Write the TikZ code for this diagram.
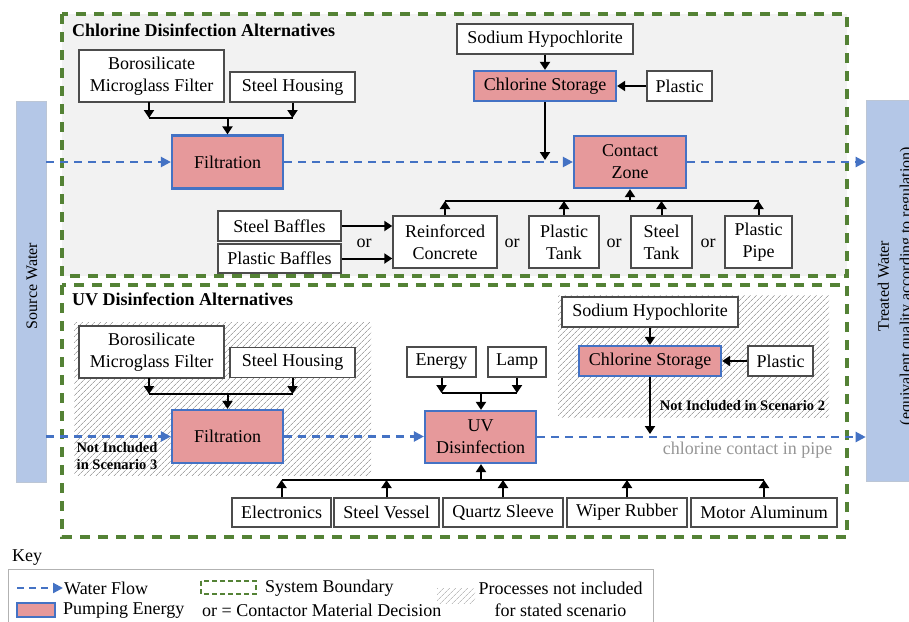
\documentclass[tikz,border=0pt]{standalone}
\usepackage{fontspec}
\setmainfont{Liberation Serif}
\usetikzlibrary{arrows.meta,patterns.meta}

\definecolor{flowblue}{RGB}{68,114,196}
\definecolor{pumppink}{RGB}{230,153,155}
\definecolor{bndgreen}{RGB}{84,130,53}
\definecolor{barblue}{RGB}{180,199,231}
\definecolor{panelgray}{RGB}{242,242,242}
\definecolor{notegray}{RGB}{150,150,150}

\newcommand\boxfont{\fontsize{18}{22}\selectfont}
\newcommand\barfont{\fontsize{16}{22}\selectfont}
\newcommand\notefont{\fontsize{14.5}{17}\selectfont\bfseries}

\tikzset{
  box/.style={draw=black!70, line width=1.4pt, fill=white, align=center,
    inner sep=0pt, font=\boxfont},
  pump/.style={box, draw=flowblue, line width=2.2pt, fill=pumppink},
  arr/.style={line width=2pt, -{Triangle[length=8pt,width=10pt]}},
  link/.style={line width=2pt},
  flow/.style={draw=flowblue, line width=2.2pt, dash pattern=on 8pt off 6pt,
    -{Triangle[length=10pt,width=10pt]}},
  boundary/.style={draw=bndgreen, line width=3.5pt, dash pattern=on 10pt off 8pt},
  hatch/.style={pattern={Lines[angle=45,distance=4pt,line width=0.8pt]},
    pattern color=black!35},
  bar/.style={fill=barblue, draw=barblue!80!black!60, line width=0.6pt,
    inner sep=0pt},
  title/.style={font=\boxfont\bfseries, anchor=west, inner sep=0pt},
  txt/.style={font=\boxfont, inner sep=0pt},
}

\begin{document}
\begin{tikzpicture}[x=1pt,y=-1pt]
\useasboundingbox (0,0) rectangle (909,621);

% ---------- panels ----------
\fill[panelgray] (62,14) rectangle (847,276);
\fill[white] (62,285) rectangle (847,537);
\path[hatch] (74,322) rectangle (371,475);
\path[hatch] (558,295) rectangle (829,417);
\draw[boundary] (62,14) rectangle (847,276);
\draw[boundary] (62,285) rectangle (847,537);

\node[title] (ctitle) at (72,30) {Chlorine Disinfection Alternatives};
\node[title] (utitle) at (72,299) {UV Disinfection Alternatives};

% ---------- source / treated water bars ----------
\node[bar, minimum width=30, minimum height=381] (srcbar) at (31,291.5) {};
\node[txt, font=\barfont, rotate=90] (srctext) at (32,286) {Source Water};
\node[bar, minimum width=64, minimum height=381] (trbar) at (898,290.5) {};
\node[txt, font=\barfont, rotate=90, align=center] (trtext) at (896,286)
  {Treated Water\\(equivalent quality according to regulation)};

% ---------- chlorine disinfection ----------
\node[box, minimum width=145, minimum height=52] (cBoro) at (151.5,76) {Borosilicate\\Microglass Filter};
\node[box, minimum width=125, minimum height=30] (cSteelH) at (292.5,87) {Steel Housing};
\node[pump, minimum width=111, minimum height=53] (cFilt) at (227.5,162) {Filtration};
\node[box, minimum width=176, minimum height=30] (cSodium) at (545,39) {Sodium Hypochlorite};
\node[pump, minimum width=142, minimum height=30] (cStore) at (545,86) {Chlorine Storage};
\node[box, minimum width=65, minimum height=30] (cPlastic) at (679.5,86) {Plastic};
\node[pump, minimum width=112, minimum height=52] (cContact) at (630,162) {Contact\\Zone};
\node[box, minimum width=104, minimum height=52] (cRC) at (445,242) {Reinforced\\Concrete};
\node[box, minimum width=70, minimum height=52] (cPT) at (564,242) {Plastic\\Tank};
\node[box, minimum width=61, minimum height=52] (cST) at (661.5,242) {Steel\\Tank};
\node[box, minimum width=67, minimum height=52] (cPP) at (758.5,242) {Plastic\\Pipe};
\node[box, minimum width=123, minimum height=30] (cSB) at (279.5,226) {Steel Baffles};
\node[box, minimum width=123, minimum height=29] (cPB) at (279.5,258.5) {Plastic Baffles};
\node[txt] (cor0) at (364,243) {or};
\node[txt] (cor1) at (512,243) {or};
\node[txt] (cor2) at (614,243) {or};
\node[txt] (cor3) at (708,243) {or};

\coordinate (cj1) at (227.5,118);
\coordinate (cb1) at (149,102);
\draw[arr] (cb1) -- (cb1 |- cj1);
\draw[arr] (cSteelH.south) -- (cSteelH.south |- cj1);
\draw[link] (cb1 |- cj1) -- (cSteelH.south |- cj1);
\draw[arr] (cj1) -- (cFilt.north);

\draw[flow] (srcbar.east |- cFilt) -- (cFilt.west);
\draw[flow] (cFilt.east) -- (cContact.west);
\draw[flow] (cContact.east) -- (cContact.east -| trbar.west);

\coordinate (cdrop) at (545,160);
\draw[arr] (cSodium) -- (cStore);
\draw[arr] (cPlastic) -- (cStore);
\draw[arr] (cStore.south) -- (cdrop);

\coordinate (cj2) at (630,201);
\draw[link] (cRC.north |- cj2) -- (cPP.north |- cj2);
\foreach \n in {cRC,cPT,cST,cPP}
  \draw[arr] (\n.north) -- (\n.north |- cj2);
\draw[arr] (cj2) -- (cContact.south);
\draw[arr] (cSB.east) -- (cSB.east -| cRC.west);
\draw[arr] (cPB.east) -- (cPB.east -| cRC.west);

% ---------- UV disinfection ----------
\node[box, minimum width=145, minimum height=52] (uBoro) at (151.5,352) {Borosilicate\\Microglass Filter};
\node[box, minimum width=125, minimum height=30] (uSteelH) at (292.5,362.5) {Steel Housing};
\node[pump, minimum width=111, minimum height=53] (uFilt) at (227.5,436.5) {Filtration};
\node[txt, font=\notefont, align=center] (unote3) at (117,456.5) {Not Included\\in Scenario 3};

\node[box, minimum width=69, minimum height=30] (uEnergy) at (441.5,362) {Energy};
\node[box, minimum width=58, minimum height=30] (uLamp) at (517,362) {Lamp};
\node[pump, minimum width=111, minimum height=52] (uUV) at (480.5,437) {UV\\Disinfection};

\node[box, minimum width=176, minimum height=30] (uSodium) at (650,312) {Sodium Hypochlorite};
\node[pump, minimum width=142, minimum height=30] (uStore) at (650,361) {Chlorine Storage};
\node[box, minimum width=65, minimum height=30] (uPlastic) at (780.5,361) {Plastic};
\node[txt, font=\notefont] (unote2) at (742.5,406) {Not Included in Scenario 2};
\node[txt, text=notegray] (upipe) at (747.5,450) {chlorine contact in pipe};

\node[box, minimum width=99, minimum height=29] (uElec) at (281.5,512.5) {Electronics};
\node[box, minimum width=105, minimum height=29] (uSV) at (386.5,512.5) {Steel Vessel};
\node[box, minimum width=120, minimum height=29] (uQS) at (503,512.5) {Quartz Sleeve};
\node[box, minimum width=120, minimum height=29] (uWR) at (627,512.5) {Wiper Rubber};
\node[box, minimum width=146, minimum height=29] (uMA) at (764,512.5) {Motor Aluminum};

\coordinate (uj1) at (227.5,394);
\coordinate (ub1) at (149,378);
\draw[arr] (ub1) -- (ub1 |- uj1);
\draw[arr] (uSteelH.south) -- (uSteelH.south |- uj1);
\draw[link] (ub1 |- uj1) -- (uSteelH.south |- uj1);
\draw[arr] (uj1) -- (uFilt.north);

\coordinate (uj2) at (481,393);
\draw[arr] (uEnergy.south) -- (uEnergy.south |- uj2);
\draw[arr] (uLamp.south) -- (uLamp.south |- uj2);
\draw[link] (uEnergy.south |- uj2) -- (uLamp.south |- uj2);
\draw[arr] (uj2) -- (uj2 |- uUV.north);

\draw[flow] (srcbar.east |- uFilt) -- (uFilt.west);
\draw[flow] (uFilt.east) -- (uFilt.east -| uUV.west);
\draw[flow] (uUV.east) -- (uUV.east -| trbar.west);

\coordinate (udrop) at (650,434);
\draw[arr] (uSodium) -- (uStore);
\draw[arr] (uPlastic) -- (uStore);
\draw[arr] (uStore.south) -- (udrop);

\coordinate (uj3) at (481,480);
\draw[link] (uElec.north |- uj3) -- (uMA.north |- uj3);
\foreach \n in {uElec,uSV,uQS,uWR,uMA}
  \draw[arr] (\n.north) -- (\n.north |- uj3);
\draw[arr] (uj3) -- (uj3 |- uUV.south);

% ---------- key ----------
\node[txt, anchor=west] (keytitle) at (12,558) {Key};
\draw[black!30, line width=1pt] (8,640) -- (8,569) -- (653,569) -- (653,640);
\coordinate (kf0) at (17,588);
\coordinate (kf1) at (63,588);
\draw[flow, dash pattern=on 7pt off 5pt] (kf0) -- (kf1);
\node[txt, anchor=west] (kflow) at (64,588) {Water Flow};
\node[pump, line width=1.8pt, minimum width=38, minimum height=14] (kpump) at (36,610) {};
\node[txt, anchor=west] (kpumpt) at (63,610) {Pumping Energy};
\draw[draw=bndgreen, line width=2.2pt, dash pattern=on 5pt off 3pt] (201,581) rectangle (256,594);
\node[txt, anchor=west] (kbnd) at (265,588) {System Boundary};
\node[txt, anchor=west] (kor) at (202,610) {or = Contactor Material Decision};
\path[hatch, pattern color=black!25] (437,588) rectangle (475,603);
\node[txt, align=center] (khatch) at (560.5,599) {Processes not included\\for stated scenario};
\end{tikzpicture}
\end{document}
